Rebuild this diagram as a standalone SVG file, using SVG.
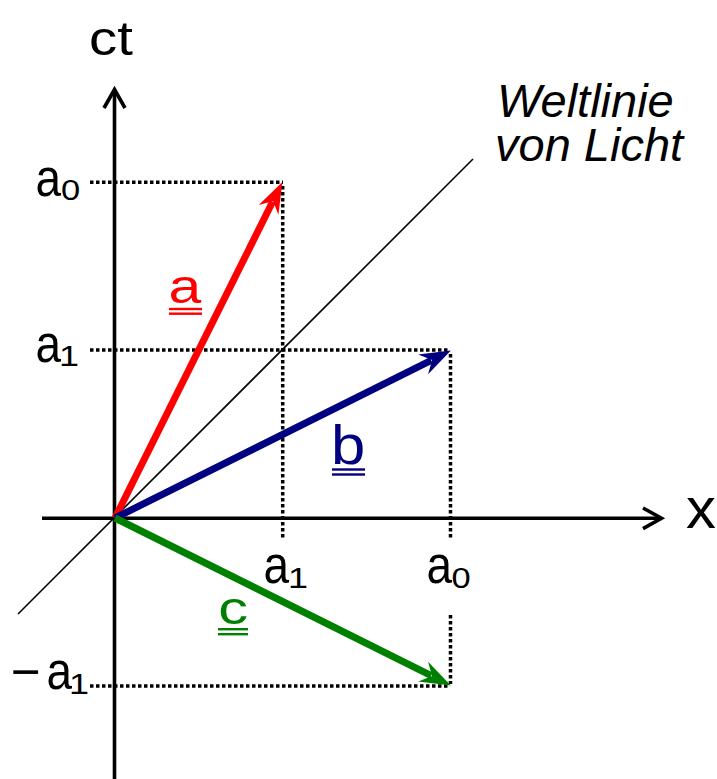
<svg xmlns="http://www.w3.org/2000/svg" width="717" height="779" viewBox="0 0 717 779">
<defs>
<style>
.t{font-family:"Liberation Sans",Arial,sans-serif;}
.ax{stroke:#000;stroke-width:3.6;fill:none;}
.dot{stroke:#000;stroke-width:3.5;stroke-dasharray:3.5 2.5;fill:none;}
.vec{stroke-width:7;fill:none;}
</style>
<marker id="mr" markerUnits="userSpaceOnUse" orient="auto" markerWidth="40" markerHeight="30" refX="0" refY="0" viewBox="-12 -15 40 30" overflow="visible"><path d="M22,0 L-9,-11 L1,0 L-9,11 Z" fill="#FF0000"/></marker>
<marker id="mb" markerUnits="userSpaceOnUse" orient="auto" markerWidth="40" markerHeight="30" refX="0" refY="0" viewBox="-12 -15 40 30" overflow="visible"><path d="M22,0 L-9,-11 L1,0 L-9,11 Z" fill="#000080"/></marker>
<marker id="mg" markerUnits="userSpaceOnUse" orient="auto" markerWidth="40" markerHeight="30" refX="0" refY="0" viewBox="-12 -15 40 30" overflow="visible"><path d="M22,0 L-9,-11 L1,0 L-9,11 Z" fill="#008000"/></marker>
</defs>
<rect width="717" height="779" fill="#fff"/>
<g id="connectors">
<g id="dotted-lines">
<line class="dot" x1="90" y1="182.3" x2="283" y2="182.3"/>
<line class="dot" x1="282.7" y1="186" x2="282.7" y2="538"/>
<line class="dot" x1="90" y1="350" x2="450" y2="350"/>
<line class="dot" x1="450.5" y1="354" x2="450.5" y2="538"/>
<line class="dot" x1="450.5" y1="615" x2="450.5" y2="684"/>
<line class="dot" x1="90" y1="686" x2="450" y2="686"/>
</g>
<line id="light" x1="18" y1="614" x2="473" y2="159" stroke="#000" stroke-width="1.6"/>
<g id="axes">
<line class="ax" x1="114.5" y1="779" x2="114.5" y2="91"/>
<polyline class="ax" points="104,108 114.5,89.5 125,108"/>
<line class="ax" x1="42" y1="518.3" x2="660" y2="518.3"/>
<polyline class="ax" points="643,508 661.5,518.3 643,528.6"/>
</g>
<line id="vec-a" class="vec" stroke="#FF0000" x1="115" y1="518" x2="272.6" y2="201.8" marker-end="url(#mr)"/>
<line id="vec-b" class="vec" stroke="#000080" x1="115" y1="518" x2="431.2" y2="360.4" marker-end="url(#mb)"/>
<line id="vec-c" class="vec" stroke="#008000" x1="115" y1="518" x2="431.2" y2="675.6" marker-end="url(#mg)"/>
</g>
<g id="label-ct"><text class="t" font-size="49" transform="translate(89,54.5) scale(1.15,1)">ct</text></g>
<g id="label-x"><text class="t" font-size="57" transform="translate(686,528) scale(1.05,1)">x</text></g>
<g id="label-weltlinie">
<text class="t" x="497" y="117" font-size="47" font-style="italic">Weltlinie</text>
<text class="t" x="495" y="161" font-size="47" font-style="italic">von Licht</text>
</g>
<g id="label-a0-y">
<text class="t" font-size="51" transform="translate(35.4,195.5) scale(0.9,1)">a</text>
<text class="t" font-size="30" transform="translate(61,200) scale(1.15,1)">0</text>
</g>
<g id="label-a1-y">
<text class="t" font-size="51" transform="translate(35.4,362) scale(0.9,1)">a</text>
<text class="t" font-size="30" transform="translate(59,366) scale(1.2,1)">1</text>
</g>
<g id="label-minus-a1">
<text class="t" x="11" y="689" font-size="51">−</text>
<text class="t" font-size="51" transform="translate(46.4,689) scale(0.9,1)">a</text>
<text class="t" font-size="30" transform="translate(69,694) scale(1.2,1)">1</text>
</g>
<g id="label-a1-x">
<text class="t" font-size="51" transform="translate(263.4,583) scale(0.9,1)">a</text>
<text class="t" font-size="30" transform="translate(288,588) scale(1.2,1)">1</text>
</g>
<g id="label-a0-x">
<text class="t" font-size="51" transform="translate(426.4,583) scale(0.9,1)">a</text>
<text class="t" font-size="30" transform="translate(451.5,588) scale(1.15,1)">0</text>
</g>
<g id="label-a" fill="#FF0000">
<text class="t" font-size="49" transform="translate(168.6,302.6) scale(1.2,1)">a</text>
<rect x="169" y="307.8" width="33" height="2.4"/>
<rect x="169" y="312.5" width="33" height="2.4"/>
</g>
<g id="label-b" fill="#000080">
<text class="t" font-size="56" transform="translate(331,464) scale(1.1,1)">b</text>
<rect x="332" y="468.3" width="33" height="2.4"/>
<rect x="332" y="473.3" width="33" height="2.4"/>
</g>
<g id="label-c" fill="#008000">
<text class="t" font-size="47" transform="translate(218.2,623.5) scale(1.27,1)">c</text>
<rect x="218" y="628" width="30" height="2.4"/>
<rect x="218" y="633" width="30" height="2.4"/>
</g>
</svg>
